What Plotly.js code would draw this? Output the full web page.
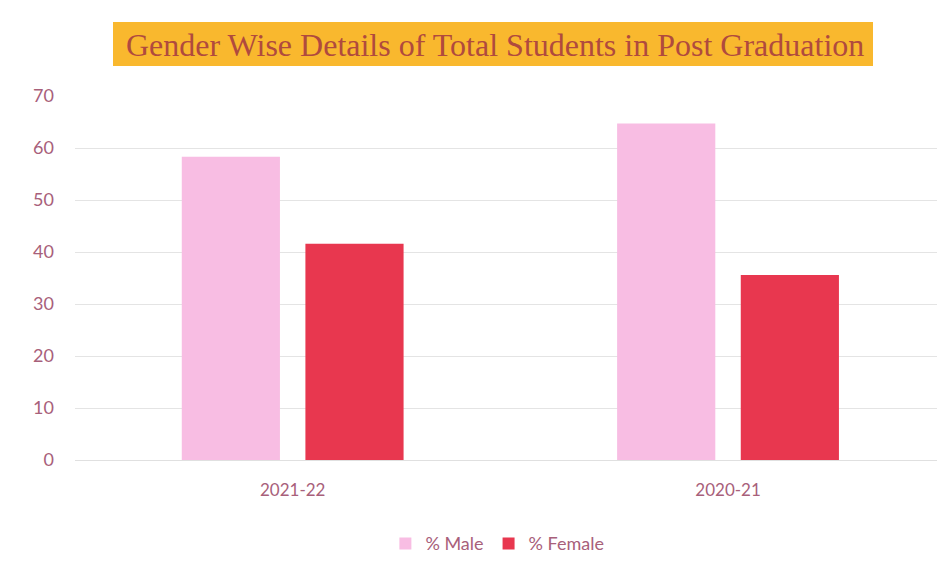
<!DOCTYPE html>
<html><head><meta charset="utf-8">
<script src="https://cdn.plot.ly/plotly-3.0.1.min.js"></script>
<style>html,body{margin:0;padding:0;background:#fff;}#chart{width:937px;height:579px;}</style>
</head><body><div id="chart"></div>
<script>
const categories = ["2021-22", "2020-21"];
const maleValues = [58.3, 64.7];
const femaleValues = [41.6, 35.6];
const seriesNames = ["% Male", "% Female"];
const yTicks = [0, 10, 20, 30, 40, 50, 60, 70];
const titleText = "Gender Wise Details of Total Students in Post Graduation";

const labelColor = "#a8607a";
const traces = [
  {type: "bar", name: seriesNames[0], x: categories, y: maleValues, marker: {color: "#f8bde3"}},
  {type: "bar", name: seriesNames[1], x: categories, y: femaleValues, marker: {color: "#e8374f"}}
];
const layout = {
  width: 937, height: 579,
  margin: {l: 75, r: 0, t: 96, b: 119},
  paper_bgcolor: "#ffffff", plot_bgcolor: "#ffffff",
  barmode: "group", bargap: 0.432, bargroupgap: 0.206,
  showlegend: true,
  legend: {orientation: "h", x: 0.49, xanchor: "center", y: -0.23, yanchor: "middle",
           font: {family: "Lato, 'Open Sans', sans-serif", size: 18, color: labelColor}, traceorder: "normal",
           itemwidth: 30},
  xaxis: {type: "category", range: [-0.5, 1.48], showgrid: false, zeroline: false, showline: false,
          ticks: "", ticklabelstandoff: 18,
          tickfont: {family: "Lato, 'Open Sans', sans-serif", size: 17, color: labelColor}},
  yaxis: {range: [0, 70], tickvals: yTicks, showgrid: true, gridcolor: "#e4e4e4", gridwidth: 1,
          zeroline: true, zerolinecolor: "#e0e0e0", showline: false, ticks: "", ticklabelstandoff: 20,
          tickfont: {family: "Lato, 'Open Sans', sans-serif", size: 18, color: labelColor}},
  shapes: [{type: "rect", xref: "paper", yref: "paper", x0: 38/862, x1: 798/862,
            y0: (460-66)/364, y1: (460-22)/364, fillcolor: "#f9b82e", line: {width: 0}, layer: "below"}],
  annotations: [{xref: "paper", yref: "paper", x: 420/862, y: (460-45)/364, xanchor: "center", yanchor: "middle",
                 text: titleText, showarrow: false,
                 font: {family: "'Liberation Serif', 'DejaVu Serif', serif", size: 32, color: "#b04a3e"}}]
};
Plotly.newPlot("chart", traces, layout, {displayModeBar: false, staticPlot: true});
</script></body></html>
